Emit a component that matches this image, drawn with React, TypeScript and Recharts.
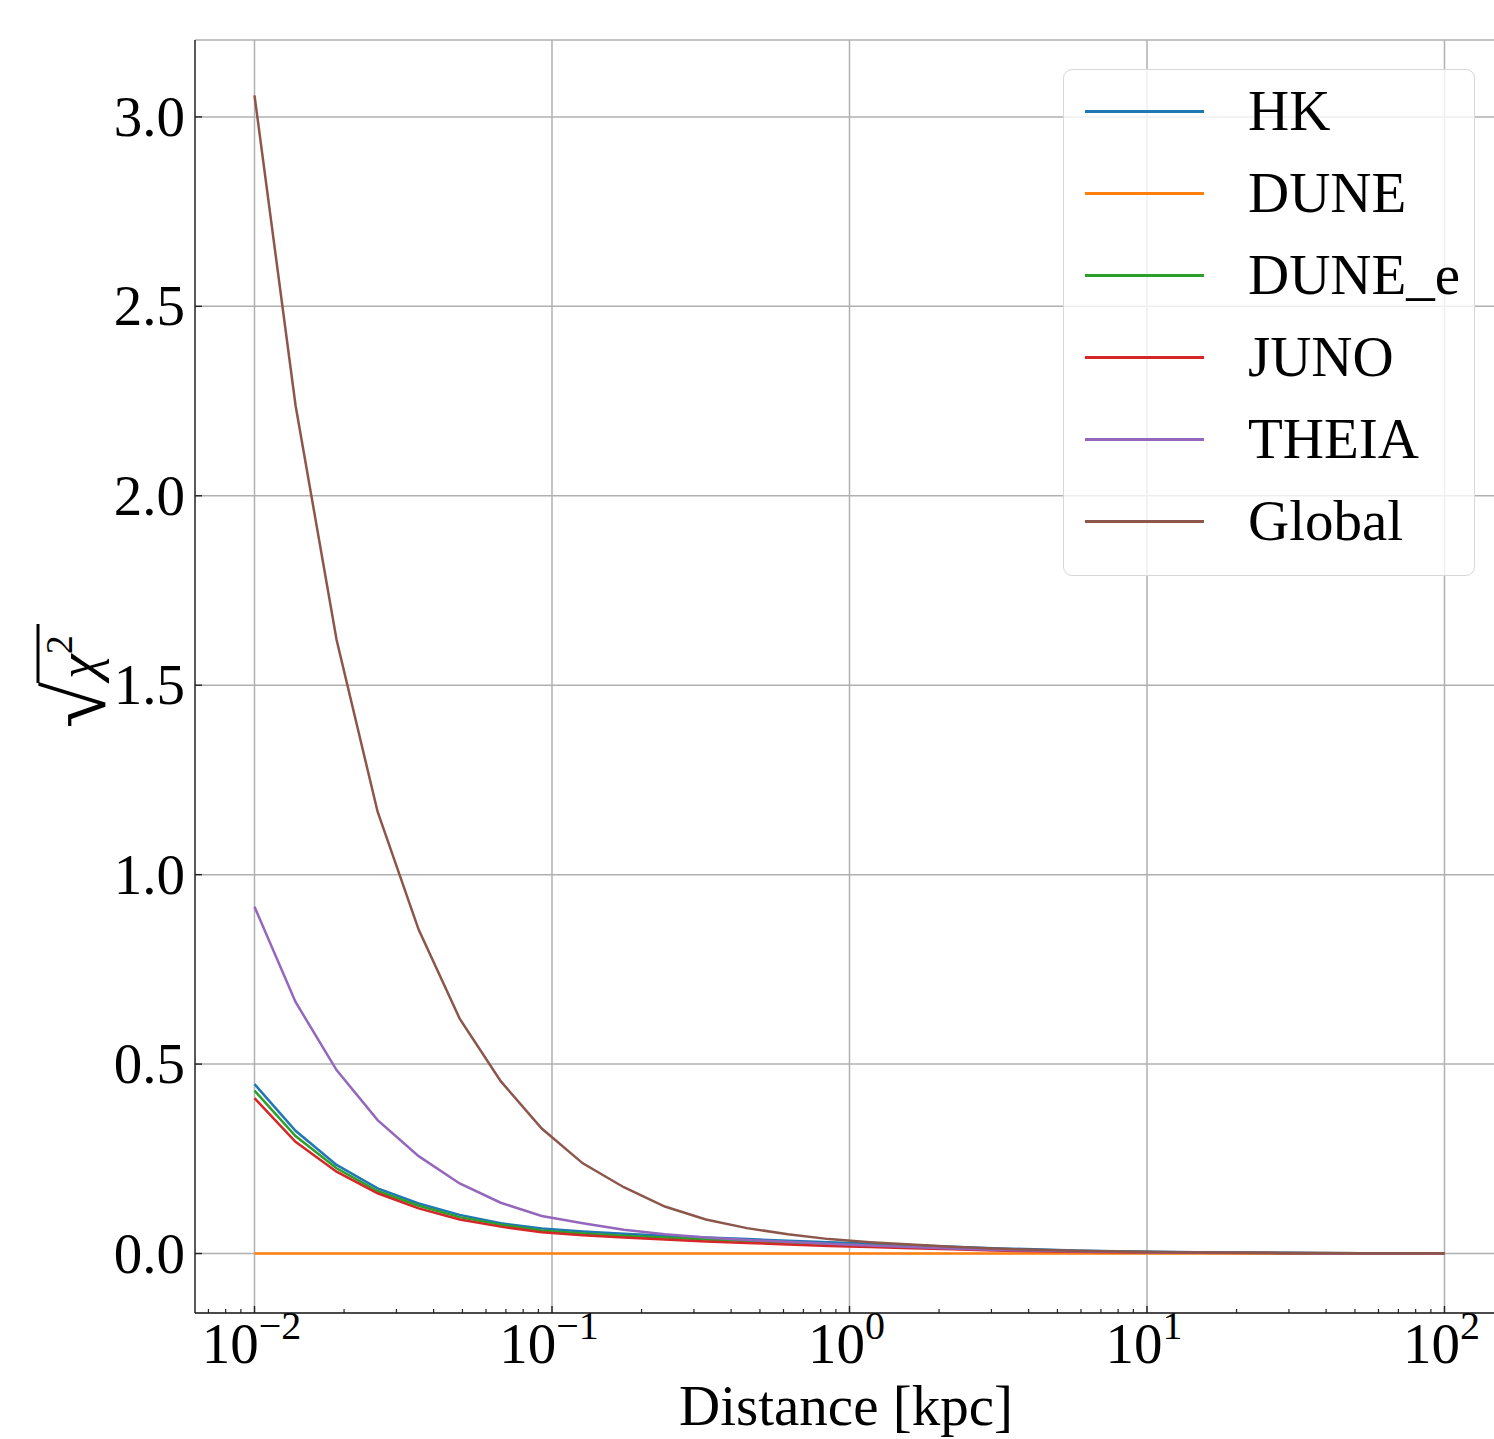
import React from 'react';
import { LineChart, Line, XAxis, YAxis, CartesianGrid } from 'recharts';

const distances = [
  0.01, 0.013738, 0.018874, 0.025929, 0.035622, 0.048939, 0.067234, 0.092367, 0.1269, 0.17433,
  0.2395, 0.32903, 0.45204, 0.62102, 0.85317, 1.1721, 1.6103, 2.2122, 3.0392, 4.1753,
  5.7362, 7.8805, 10.826, 14.874, 20.434, 28.072, 38.566, 52.983, 72.79, 100,
];

const hk = [0.447, 0.324, 0.234, 0.172, 0.132, 0.102, 0.08, 0.066, 0.058, 0.052, 0.047, 0.042, 0.038, 0.034, 0.03, 0.026, 0.022, 0.018, 0.014, 0.011, 0.008, 0.006, 0.0045, 0.0033, 0.0025, 0.0018, 0.0013, 0.001, 0.0007, 0.0005];
const dune = [0, 0, 0, 0, 0, 0, 0, 0, 0, 0, 0, 0, 0, 0, 0, 0, 0, 0, 0, 0, 0, 0, 0, 0, 0, 0, 0, 0, 0, 0];
const duneE = [0.43, 0.31, 0.225, 0.165, 0.126, 0.096, 0.076, 0.061, 0.053, 0.047, 0.042, 0.037, 0.033, 0.029, 0.025, 0.021, 0.018, 0.014, 0.011, 0.008, 0.006, 0.0045, 0.0033, 0.0025, 0.0018, 0.0013, 0.001, 0.0007, 0.0005, 0.0004];
const juno = [0.41, 0.295, 0.216, 0.159, 0.119, 0.09, 0.071, 0.056, 0.048, 0.042, 0.037, 0.032, 0.028, 0.024, 0.02, 0.017, 0.014, 0.011, 0.008, 0.006, 0.0045, 0.0033, 0.0025, 0.0018, 0.0013, 0.001, 0.0007, 0.0005, 0.0004, 0.0003];
const theia = [0.915, 0.664, 0.484, 0.352, 0.257, 0.185, 0.134, 0.099, 0.08, 0.063, 0.051, 0.042, 0.036, 0.031, 0.026, 0.021, 0.017, 0.013, 0.01, 0.008, 0.006, 0.0045, 0.0033, 0.0025, 0.0018, 0.0013, 0.001, 0.0007, 0.0005, 0.0004];
const globalFit = [3.057, 2.239, 1.62, 1.166, 0.855, 0.62, 0.455, 0.33, 0.238, 0.175, 0.124, 0.09, 0.067, 0.051, 0.038, 0.03, 0.024, 0.018, 0.013, 0.01, 0.0075, 0.0055, 0.004, 0.003, 0.0022, 0.0016, 0.0012, 0.0009, 0.0006, 0.0005];

const seriesNames = ['HK', 'DUNE', 'DUNE_e', 'JUNO', 'THEIA', 'Global'];
const seriesKeys = ['hk', 'dune', 'duneE', 'juno', 'theia', 'global'];
const seriesValues = [hk, dune, duneE, juno, theia, globalFit];
const seriesColors = ['#1f77b4', '#ff7f0e', '#2ca02c', '#d62728', '#9467bd', '#8c564b'];

const xMajorTicks = [0.01, 0.1, 1, 10, 100];
const xMinorTicks = [
  0.007, 0.008, 0.009,
  0.02, 0.03, 0.04, 0.05, 0.06, 0.07, 0.08, 0.09,
  0.2, 0.3, 0.4, 0.5, 0.6, 0.7, 0.8, 0.9,
  2, 3, 4, 5, 6, 7, 8, 9,
  20, 30, 40, 50, 60, 70, 80, 90,
  150,
];
const yTicks = [0, 0.5, 1, 1.5, 2, 2.5, 3];
const xDomain = [0.0063096, 158.49];
const yDomain = [-0.157, 3.203];

const FONT = '"Liberation Serif", "DejaVu Serif", serif';

const data = distances.map((d, i) => {
  const row: any = { d };
  seriesKeys.forEach((k, j) => {
    row[k] = seriesValues[j][i];
  });
  return row;
});

const allXTicks = [...xMajorTicks, ...xMinorTicks].sort((a, b) => a - b);

const XTick = (props: any) => {
  const { x, y, payload } = props;
  const v = payload.value;
  const lg = Math.log10(v);
  const exp = Math.round(lg);
  const isMajor = Math.abs(lg - exp) < 1e-6;
  if (!isMajor) {
    return <line x1={x} x2={x} y1={y} y2={y - 4} stroke="#222" strokeWidth={1.2} />;
  }
  const expText = exp < 0 ? '\u2212' + String(-exp) : String(exp);
  return (
    <g>
      <line x1={x} x2={x} y1={y} y2={y - 7} stroke="#222" strokeWidth={1.4} />
      <text x={x - 3} y={y + 50} textAnchor="middle" fontFamily={FONT} fontSize={57} fill="#000">
        10<tspan dy={-24} fontSize={40}>{expText}</tspan>
      </text>
    </g>
  );
};

const YTick = (props: any) => {
  const { x, y, payload } = props;
  return (
    <g>
      <line x1={x} x2={x + 7} y1={y} y2={y} stroke="#222" strokeWidth={1.4} />
      <text x={x - 10} y={y + 19} textAnchor="end" fontFamily={FONT} fontSize={57} fill="#000">
        {Number(payload.value).toFixed(1)}
      </text>
    </g>
  );
};

// rotated label: local (u, v) -> screen (97 + v, 680 - u)
const YLabel = () => (
  <g transform="translate(97, 680) rotate(-90)">
    <text x={-2} y={8} textAnchor="end" fontFamily={FONT} fontSize={84} fill="#000">
      {'\u221A'}
    </text>
    <line x1={-3} x2={56} y1={-59} y2={-59} stroke="#000" strokeWidth={3} />
    <text x={1} y={0} textAnchor="start" fontFamily={FONT} fontSize={56} fontStyle="italic" fill="#000">
      {'\u03C7'}
      <tspan dy={-25} fontSize={38} fontStyle="normal">2</tspan>
    </text>
  </g>
);

const XLabel = () => (
  <text x={846} y={1425} textAnchor="middle" fontFamily={FONT} fontSize={57} fill="#000">
    Distance [kpc]
  </text>
);

const LegendBox = () => (
  <div
    style={{
      position: 'absolute',
      left: 1063,
      top: 69,
      width: 412,
      height: 507,
      border: '1.5px solid #d8d8d8',
      borderRadius: 9,
      background: 'rgba(255,255,255,0.8)',
      boxSizing: 'border-box',
      zIndex: 5,
    }}
  >
    {seriesNames.map((name, i) => (
      <div
        key={name}
        style={{
          position: 'absolute',
          left: 0,
          top: 41 + i * 82 - 30,
          height: 60,
          width: 408,
        }}
      >
        <div style={{ position: 'absolute', left: 21, top: 29, width: 119, height: 3, background: seriesColors[i] }} />
        <span
          style={{
            position: 'absolute',
            left: 184,
            top: 0,
            fontFamily: FONT,
            fontSize: 57,
            lineHeight: '60px',
            color: '#000',
            whiteSpace: 'nowrap',
          }}
        >
          {name}
        </span>
      </div>
    ))}
  </div>
);

export default function App() {
  return (
    <div
      style={{
        position: 'absolute',
        left: 0,
        top: 0,
        width: 1494,
        height: 1439,
        overflow: 'hidden',
        background: '#fff',
      }}
    >
      <LineChart
        width={1510}
        height={1439}
        data={data}
        margin={{ top: 40, right: 6, bottom: 0, left: 0 }}
      >
        <CartesianGrid stroke="#b0b0b0" strokeWidth={1.5} verticalValues={xMajorTicks} />
        <XAxis
          xAxisId="top"
          orientation="top"
          dataKey="d"
          type="number"
          scale="log"
          domain={xDomain}
          allowDataOverflow
          height={0}
          tick={false}
          tickLine={false}
          axisLine={{ stroke: '#222', strokeWidth: 1.5 }}
        />
        <XAxis
          dataKey="d"
          type="number"
          scale="log"
          domain={xDomain}
          allowDataOverflow
          ticks={allXTicks}
          interval={0}
          height={126}
          tickSize={0}
          tickMargin={0}
          tickLine={false}
          tick={<XTick />}
          axisLine={{ stroke: '#222', strokeWidth: 1.5 }}
        />
        <YAxis
          type="number"
          domain={yDomain}
          allowDataOverflow
          ticks={yTicks}
          interval={0}
          width={195}
          tickSize={0}
          tickMargin={0}
          tickLine={false}
          tick={<YTick />}
          axisLine={{ stroke: '#222', strokeWidth: 1.5 }}
        />
        {seriesKeys.map((k, i) => (
          <Line
            key={k}
            dataKey={k}
            stroke={seriesColors[i]}
            strokeWidth={2.5}
            dot={false}
            activeDot={false}
            type="linear"
            isAnimationActive={false}
          />
        ))}
        <YLabel />
        <XLabel />
      </LineChart>
      <LegendBox />
    </div>
  );
}
